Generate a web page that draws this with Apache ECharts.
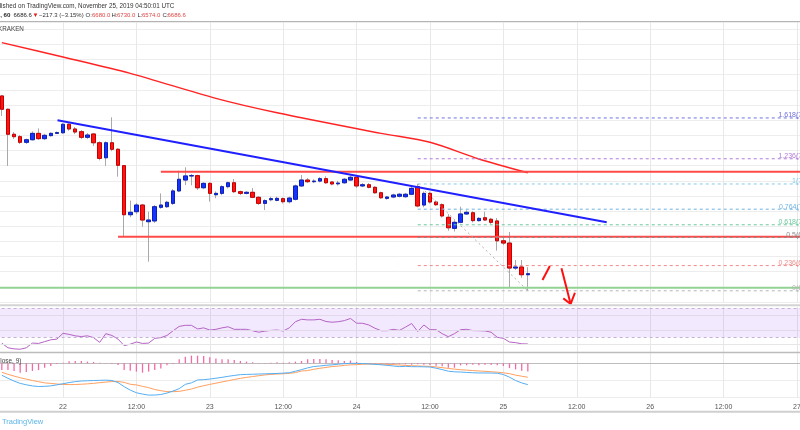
<!DOCTYPE html>
<html><head><meta charset="utf-8">
<script src="https://cdn.jsdelivr.net/npm/echarts/dist/echarts.min.js"></script>
<style>html,body{margin:0;padding:0;background:#fff}#c{width:800px;height:430px}</style>
</head><body><div id="c"></div>
<script>
// ---- data (hours are counted from Nov 22 00:00 UTC; hourly candles) ----
const firstCandleHour = -10; // Nov 21 14:00
const openP  = [7860,7772,7607,7591,7554,7571,7613,7578,7598,7613,7617,7673,7642,7624,7587,7609,7551,7452,7551,7508,7400,7076,7096,7140,7030,7035,7125,7129,7151,7233,7305,7332,7334,7254,7283,7208,7217,7261,7287,7228,7217,7224,7191,7151,7175,7171,7182,7162,7178,7266,7305,7294,7298,7314,7292,7280,7287,7305,7323,7266,7274,7257,7221,7184,7193,7198,7195,7211,7261,7140,7217,7160,7142,7059,6986,7026,7081,7089,7037,7056,7046,7035,6903.9,6889,6724,6731,6680];
const closeP = [7772,7607,7591,7554,7571,7613,7578,7600,7613,7618,7673,7642,7622,7587,7602,7551,7448,7551,7508,7402,7076,7092,7140,7041,7041,7129,7140,7158,7233,7310,7332,7334,7254,7283,7217,7217,7261,7287,7228,7217,7224,7191,7151,7169,7182,7184,7162,7186,7266,7305,7294,7298,7314,7287,7279,7285,7310,7323,7266,7274,7257,7221,7188,7193,7206,7211,7211,7250,7134,7217,7160,7142,7068,6990,7026,7081,7092,7037,7052,7041,7026,6903.9,6889,6724,6731,6680,6686.6];
const lowP   = [7728,7398,7576,7543,7543,7565,7570,7568,7592,7608,7610,7630,7608,7575,7575,7530,7435,7398,7495,7327,6931,7060,7080,6997,6766,7022,7115,7120,7140,7225,7272,7270,7240,7245,7162,7185,7205,7250,7220,7205,7210,7185,7140,7107,7165,7165,7150,7150,7170,7260,7285,7285,7290,7280,7270,7268,7280,7300,7252,7258,7250,7215,7180,7175,7185,7190,7188,7205,7125,7125,7150,7135,7058,6970,6965,7020,7075,7025,7030,7035,7015,6839,6875,6599,6712,6660,6574];
const highP  = [7866,7776,7622,7602,7578,7626,7646,7610,7620,7625,7680,7680,7655,7635,7615,7615,7560,7560,7719,7515,7405,7169,7153,7147,7096,7140,7217,7168,7245,7367,7389,7345,7340,7290,7290,7230,7270,7295,7312,7235,7230,7252,7198,7178,7195,7195,7190,7195,7275,7338,7318,7310,7325,7330,7298,7300,7318,7335,7330,7285,7285,7265,7228,7200,7215,7220,7220,7260,7279,7230,7228,7170,7150,7080,7040,7129,7105,7100,7060,7096,7055,7054,6929,6962,6777,6777,6730];
const rsiVals = [22,15.5,14,13.5,15.5,22,21.5,24,26.5,27.5,35.5,34,32,31,32,29.5,23,35,32.5,27.5,18.5,20.5,23.5,21.5,22,28.5,29.5,32.5,39,45,46.5,46.5,41.5,43,40,41,43,44.5,41,41,41,39,37,38.5,39.5,40,38.7,43,51.5,54.8,54,54,54.8,51.8,50.8,51.5,53,56,49.5,49.3,47,42.5,39.1,39.1,41,39.5,44,49,38,47,40.5,40.5,35,30.8,35,40.5,41,39.2,39.1,38.8,37,30,28.5,23.5,22.6,21,20.8];
const macdVals = [-35.1,-44.1,-52.3,-59,-63.2,-66.5,-68.3,-67.8,-66.4,-63.4,-60.1,-56.6,-53.9,-52,-51.4,-50.7,-50.1,-49.6,-50.5,-56.7,-68.7,-78.8,-86.6,-90.5,-93.6,-93.4,-91.8,-87.5,-81.5,-74.7,-61.9,-57.5,-49,-48.1,-46.3,-43.9,-41.3,-38.3,-35.7,-33.4,-32.7,-32.2,-31.5,-31,-30.4,-29.8,-28.8,-27.7,-23.3,-18.6,-13.4,-9.4,-7.9,-5.8,-4.6,-2.6,-1,-0.1,-0.1,-0.6,-1.8,-3,-4.3,-6.1,-7.9,-9.8,-9,-9.9,-9.9,-10.3,-10.9,-14.4,-18.5,-23.2,-25,-25.7,-26.9,-27.8,-28.4,-28.5,-28.6,-29.2,-33,-40.8,-50.5,-57.7,-62.8];
const signalVals = [-26.4,-32.4,-37.6,-42.4,-46.6,-50.5,-54.1,-57.5,-59.1,-61,-62.2,-62.7,-62.4,-61.6,-60.4,-58.9,-57,-55.3,-53.7,-53.5,-56,-61.7,-63.6,-67.8,-71.6,-77.1,-80.5,-83.4,-83.4,-82.5,-79.3,-75.6,-70.1,-65.9,-62.1,-58.4,-54.8,-51.3,-47.6,-44.3,-41.4,-39,-36.6,-34.2,-32.6,-31.5,-30.9,-29.5,-27.3,-22.6,-21.3,-17.6,-14.6,-12.2,-9.4,-8.3,-6,-4.6,-4,-2.8,-2.1,-2.1,-2.5,-3,-4,-4.9,-6.1,-7.1,-7.7,-8.5,-8.9,-10.7,-12.7,-15.1,-17.1,-18.9,-20.1,-21.3,-22.5,-23.6,-24.8,-26,-27.9,-30.4,-34.8,-37.9,-41];
const histVals = [-20,-20,-22.5,-27.5,-25.5,-22.5,-20,-13,-8,-2,2,6,7,7,5,4,2,1,-2,-5,-20,-22,-24.5,-27.5,-24.5,-20,-15,-6,-2,12,19.5,22.5,22.5,21.5,17.5,14.5,12,12,10,7,5,3,1,1,2,3,2,3,5,7,12,13,13,12,10,9,7,8,4,0,-2,-3,-2,-3,-3,-3,-3,-4,-3,-4,-5,-7,-9,-13,-13,-6,-6,-4,-6,-4,-5,-6,-8,-14,-18,-22,-24];
const maPoints = [[-10,8212],[0,8117],[11,8009],[25,7844],[35,7749],[52,7613],[60,7554],[68,7444],[76,7353]];
const trendPoints = [[-0.9,7699],[88.9,7026]];
const upperRes = [[16,7360],[120.5,7360]];
const lowerRes = [[9,6931],[120.5,6931]];
const greenLevel = [[-12,6594],[120.5,6594]];
const fibRatios = ['0','0.236','0.5','0.618','0.764','1','1.236','1.618'];
const fibPrices = [6574.0,6740.4,6926.5,7009.7,7112.6,7279.0,7445.4,7714.7];
const fibStartHour = 58;
const fibDiagonal = [[58,7279],[76,6574]];
const arrowStroke1 = [[79.6,6738],[78.4,6645]];
const arrowStroke2 = [[81.5,6722],[83.0,6487]];
const arrowHead = [[81.8,6524],[83.0,6487],[83.7,6561]];
const firstDay = 22;

// ---- styles ----
const fibColors = ['#b5b5b5','#f08a8a','#8a8a8a','#6cc9a0','#6fb2e2','#86c9ef','#b27cd8','#7070e0'];
const FONT = 'Liberation Sans';

const hours = openP.map((_, i) => firstCandleHour + i);
const candleData = hours.map((h, i) => [h, openP[i], closeP[i], lowP[i], highP[i]]);
const bodyData = hours.map((h, i) => [h, openP[i], closeP[i], Math.min(openP[i], closeP[i]), Math.max(openP[i], closeP[i])]);

const chart = echarts.init(document.getElementById('c'), null, {renderer: 'canvas'});
const X0 = -12, X1 = 120.5;
function xAx(gi, labels) {
  return {
    type: 'value', gridIndex: gi, min: X0, max: X1, interval: 12,
    axisLine: {show: labels, lineStyle: {color: '#bdbdbd', width: 1}},
    axisTick: {show: false},
    axisLabel: {
      show: labels, color: '#555', fontSize: 7, fontFamily: FONT, margin: 6,
      showMinLabel: true, showMaxLabel: true, hideOverlap: false,
      formatter: v => {
        if (Math.abs(v % 12) > 1e-6) return '';
        if (v % 24 === 0) return String(firstDay + v / 24);
        return '12:00';
      }
    },
    splitLine: {show: true, lineStyle: {color: '#e8e8e8', width: 1}}
  };
}
function line(data, color, width, extra) {
  return Object.assign({
    type: 'line', data, symbol: 'none', silent: true, animation: false,
    lineStyle: {color, width}, xAxisIndex: 0, yAxisIndex: 0
  }, extra || {});
}
const series = [
  {type: 'candlestick', data: candleData, xAxisIndex: 0, yAxisIndex: 0, barWidth: 4, silent: true,
   itemStyle: {color: '#1733ff', color0: '#ff1414', borderColor: '#a9a9a9', borderColor0: '#a9a9a9', borderWidth: 1}},
  {type: 'candlestick', data: bodyData, xAxisIndex: 0, yAxisIndex: 0, barWidth: 4, silent: true,
   itemStyle: {color: '#1733ff', color0: '#ff1414', borderColor: '#0c20b8', borderColor0: '#c40000', borderWidth: 1}},
  line(maPoints, '#ff2424', 1.5, {smooth: 0.3}),
  line(upperRes, '#ff4a4a', 2),
  line(lowerRes, '#ff4a4a', 2),
  line(greenLevel, '#92d292', 2),
];
fibPrices.forEach((p, k) => {
  series.push(line([[fibStartHour, p], [X1, p]], fibColors[k], 1, {lineStyle: {color: fibColors[k], width: 1, type: [3, 3]}}));
});
series.push(line(fibDiagonal, '#b0b0b0', 1, {lineStyle: {color: '#b0b0b0', width: 1, type: [2, 3]}}));
series.push(line(trendPoints, '#2020ff', 2));
series.push(line(arrowStroke1, '#ff1010', 2, {clip: false}));
series.push(line(arrowStroke2, '#ff1010', 2, {clip: false}));
series.push(line(arrowHead, '#ff1010', 2, {clip: false}));
// RSI
series.push({
  type: 'line', xAxisIndex: 1, yAxisIndex: 1, symbol: 'none', silent: true,
  data: hours.map((h, i) => [h, rsiVals[i]]),
  lineStyle: {color: '#b463c4', width: 1},
  markArea: {silent: true, itemStyle: {color: 'rgba(160,70,255,0.12)'}, data: [[{yAxis: 30}, {yAxis: 70}]]},
  markLine: {silent: true, symbol: ['none', 'none'], label: {show: false},
    data: [
      {yAxis: 20, lineStyle: {color: '#e6e6e6', type: 'solid', width: 1}},
      {yAxis: 40, lineStyle: {color: '#e2d8ea', type: 'solid', width: 1}},
      {yAxis: 60, lineStyle: {color: '#e2d8ea', type: 'solid', width: 1}},
      {yAxis: 30, lineStyle: {color: '#c4b2d4', type: [3, 3], width: 1}},
      {yAxis: 70, lineStyle: {color: '#c4b2d4', type: [3, 3], width: 1}}
    ]}
});
// MACD
series.push({type: 'bar', xAxisIndex: 2, yAxisIndex: 2, silent: true, barWidth: 1.3,
  data: hours.map((h, i) => [h, histVals[i]]), itemStyle: {color: '#f46aa6'}});
series.push({type: 'line', xAxisIndex: 2, yAxisIndex: 2, symbol: 'none', silent: true,
  data: hours.map((h, i) => [h, signalVals[i]]), lineStyle: {color: '#ffa060', width: 1}});
series.push({type: 'line', xAxisIndex: 2, yAxisIndex: 2, symbol: 'none', silent: true,
  data: hours.map((h, i) => [h, macdVals[i]]), lineStyle: {color: '#55aef2', width: 1}});

const gridBase = {left: -10.4, right: 0, outerBoundsMode: 'none', containLabel: false};
const option = {
  animation: false,
  backgroundColor: '#ffffff',
  grid: [
    Object.assign({top: 22, height: 280}, gridBase),
    Object.assign({top: 306.7, height: 45.3}, gridBase),
    Object.assign({top: 352.5, height: 44.8}, gridBase)
  ],
  xAxis: [xAx(0, false), xAx(1, false), xAx(2, true)],
  yAxis: [
    {type: 'value', gridIndex: 0, min: 6500, max: 8348, interval: 100, axisLabel: {show: false}, axisLine: {show: false}, axisTick: {show: false}, splitLine: {lineStyle: {color: '#ededed'}}},
    {type: 'value', gridIndex: 1, min: 9.7, max: 72.2, axisLabel: {show: false}, axisLine: {show: false}, axisTick: {show: false}, splitLine: {show: false}},
    {type: 'value', gridIndex: 2, min: -100, max: 31.8, interval: 50, axisLabel: {show: false}, axisLine: {show: false}, axisTick: {show: false}, splitLine: {lineStyle: {color: '#ededed'}}}
  ],
  series
};
chart.setOption(option);

function txt(text, x, y, fill, size, align, extra) {
  return {type: 'text', silent: true, z: 100, x, y,
    style: Object.assign({text, fill, fontSize: size, fontFamily: FONT, textAlign: align || 'left', textVerticalAlign: 'middle'}, extra || {})};
}
const g = [
  {type: 'rect', silent: true, z: 90, shape: {x: 0, y: 0, width: 800, height: 21}, style: {fill: '#fff'}},
  {type: 'line', silent: true, z: 95, shape: {x1: 0, y1: 21.5, x2: 800, y2: 21.5}, style: {stroke: '#b4b4b4', lineWidth: 1}},
  {type: 'rect', silent: true, z: 95, shape: {x: 0, y: 304.3, width: 800, height: 2}, style: {fill: '#d4d4d4'}},
  {type: 'line', silent: true, z: 95, shape: {x1: 0, y1: 352.5, x2: 800, y2: 352.5}, style: {stroke: '#bcbcbc', lineWidth: 1.5}},
  {type: 'line', silent: true, z: 95, shape: {x1: 0, y1: 411.7, x2: 800, y2: 411.7}, style: {stroke: '#cfcfcf', lineWidth: 2}},
  txt('Published on TradingView.com, November 25, 2019 04:50:01 UTC', -11.5, 6, '#333', 6.3),
  txt('BTCUSD, 60', 10.5, 15, '#222', 6.2, 'right', {fontWeight: 'bold'}),
  txt('6686.6', 13.5, 15, '#222', 6),
  txt('\u25BC', 32.5, 15, '#e0201c', 6),
  txt('\u2212217.3 (\u22123.15%)', 39, 15, '#333', 6),
  txt('O:', 85.5, 15, '#333', 6), txt('6680.0', 92, 15, '#e04646', 6),
  txt('H:', 111.5, 15, '#333', 6), txt('6730.0', 117, 15, '#e04646', 6),
  txt('L:', 137.5, 15, '#333', 6), txt('6574.0', 142, 15, '#e04646', 6),
  txt('C:', 162.5, 15, '#333', 6), txt('6686.6', 167.5, 15, '#e04646', 6),
  txt('KRAKEN', -2, 29.5, '#444', 6.3),
  txt('MACD (12, 26, close, 9)', 21.5, 361, '#444', 6.5, 'right'),
  txt('TradingView', 2, 421.5, '#5cb5e6', 7.5)
];
fibPrices.forEach((p, k) => {
  const pt = chart.convertToPixel({gridIndex: 0}, [fibStartHour, p]);
  g.push(txt(fibRatios[k] + '(' + p.toFixed(1) + ')', 822, pt[1] - 2.5, fibColors[k], 7, 'right'));
});
chart.setOption({graphic: g});
</script></body></html>
